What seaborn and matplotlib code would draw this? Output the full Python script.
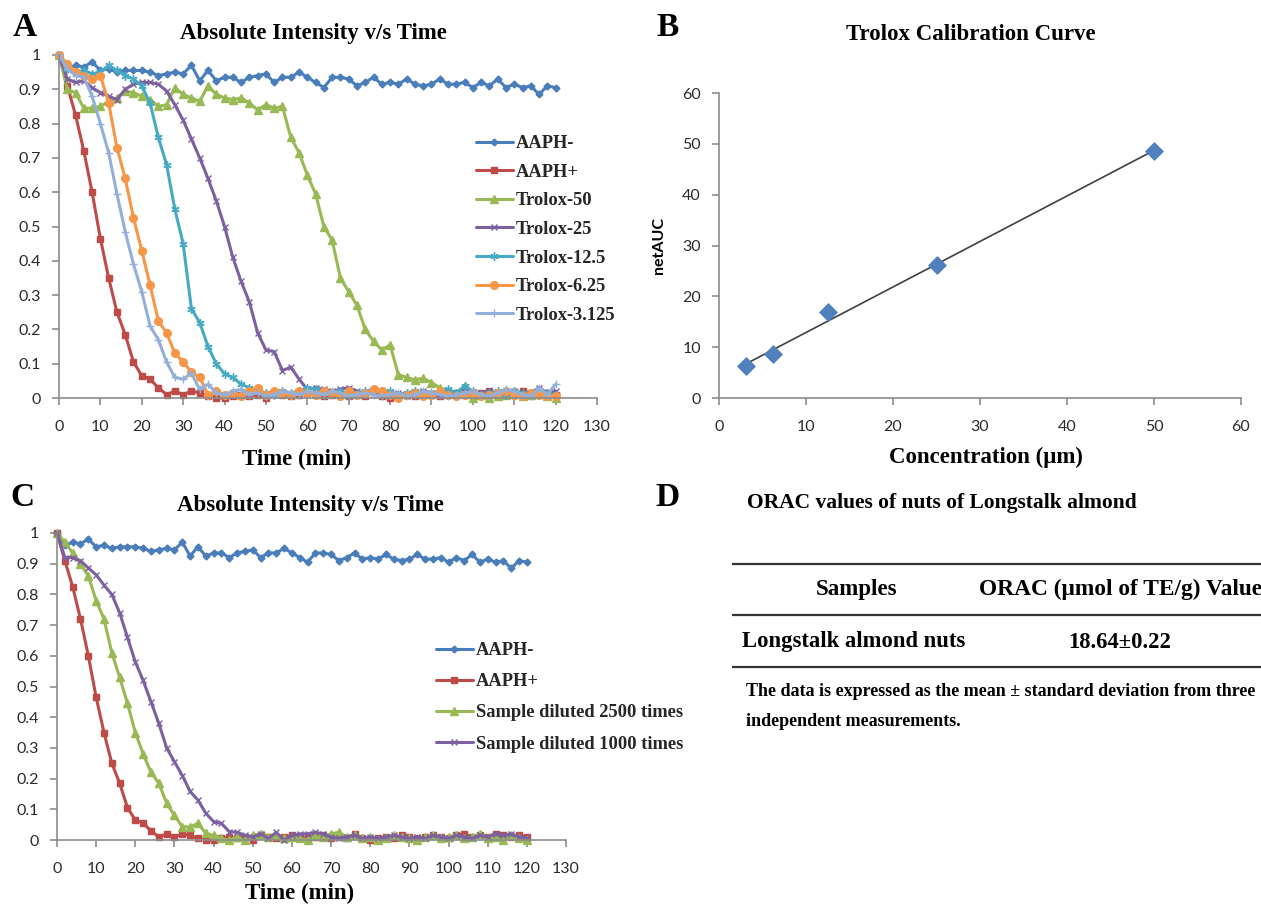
import matplotlib
matplotlib.use("Agg")
import matplotlib.pyplot as plt
import seaborn as sns
import numpy as np

# ---- data ----
time_min = list(range(0, 121, 2))

aaph_minus = [1.00, 0.96, 0.97, 0.965, 0.98, 0.955, 0.96, 0.95, 0.955, 0.955,
              0.955, 0.95, 0.94, 0.945, 0.95, 0.945, 0.97, 0.925, 0.955, 0.925,
              0.935, 0.935, 0.92, 0.935, 0.94, 0.945, 0.92, 0.935, 0.935, 0.95,
              0.935, 0.92, 0.905, 0.935, 0.935, 0.93, 0.91, 0.92, 0.935, 0.915,
              0.92, 0.915, 0.93, 0.915, 0.91, 0.915, 0.93, 0.915, 0.915, 0.92,
              0.905, 0.92, 0.91, 0.93, 0.905, 0.915, 0.905, 0.91, 0.885, 0.91,
              0.905]
aaph_plus = [1.00, 0.91, 0.825, 0.72, 0.60, 0.465, 0.35, 0.25, 0.185, 0.105,
             0.065, 0.055, 0.03, 0.01, 0.02, 0.01, 0.02, 0.015, 0.005, 0.0,
             0.0, 0.005, 0.01, 0.005, 0.01, 0.0, 0.015, 0.01, 0.005, 0.01,
             0.015, 0.01, 0.005, 0.01, 0.015, 0.005, 0.01, 0.005, 0.02, 0.005,
             0.0, 0.005, 0.01, 0.005, 0.015, 0.01, 0.005, 0.01, 0.015, 0.01,
             0.005, 0.015, 0.02, 0.01, 0.015, 0.01, 0.02, 0.015, 0.01, 0.015,
             0.01]
trolox_50 = [1.00, 0.90, 0.89, 0.845, 0.845, 0.85, 0.865, 0.875, 0.895, 0.89,
             0.88, 0.87, 0.85, 0.855, 0.905, 0.885, 0.875, 0.865, 0.91, 0.885,
             0.875, 0.87, 0.875, 0.86, 0.84, 0.855, 0.845, 0.85, 0.76, 0.715,
             0.65, 0.595, 0.50, 0.46, 0.35, 0.31, 0.27, 0.20, 0.165, 0.14,
             0.155, 0.068, 0.06, 0.053, 0.058, 0.045, 0.03, 0.02, 0.015, 0.035,
             0.0, 0.01, 0.0, 0.005, 0.01, 0.02, 0.005, 0.01, 0.02, 0.005,
             0.0]
trolox_25 = [1.00, 0.93, 0.92, 0.925, 0.905, 0.89, 0.88, 0.87, 0.90, 0.915,
             0.92, 0.92, 0.915, 0.895, 0.855, 0.81, 0.755, 0.70, 0.64, 0.575,
             0.50, 0.41, 0.34, 0.28, 0.19, 0.14, 0.135, 0.08, 0.09, 0.055,
             0.025, 0.03, 0.025, 0.02, 0.025, 0.03, 0.02, 0.01, 0.015, 0.02,
             0.01, 0.015, 0.005, 0.01, 0.02, 0.015, 0.01, 0.02, 0.015, 0.03,
             0.01, 0.015, 0.02, 0.01, 0.015, 0.02, 0.01, 0.015, 0.03, 0.015,
             0.02]
trolox_12_5 = [1.00, 0.96, 0.95, 0.955, 0.945, 0.95, 0.97, 0.955, 0.94, 0.93,
               0.91, 0.86, 0.76, 0.68, 0.55, 0.45, 0.26, 0.22, 0.15, 0.10,
               0.07, 0.06, 0.04, 0.03, 0.02, 0.015, 0.01, 0.02, 0.015, 0.02,
               0.03, 0.025, 0.02, 0.015, 0.02, 0.01, 0.015, 0.02, 0.025, 0.015,
               0.02, 0.01, 0.015, 0.02, 0.01, 0.015, 0.02, 0.025, 0.015, 0.035,
               0.02, 0.01, 0.015, 0.02, 0.01, 0.02, 0.015, 0.01, 0.02, 0.015,
               0.01]
trolox_6_25 = [1.00, 0.975, 0.95, 0.94, 0.93, 0.94, 0.86, 0.73, 0.64, 0.525,
               0.43, 0.33, 0.225, 0.19, 0.13, 0.105, 0.075, 0.06, 0.01, 0.02,
               0.01, 0.015, 0.005, 0.02, 0.03, 0.01, 0.02, 0.015, 0.01, 0.02,
               0.015, 0.01, 0.02, 0.015, 0.005, 0.02, 0.01, 0.015, 0.025, 0.02,
               0.01, 0.0, 0.01, 0.015, 0.005, 0.01, 0.02, 0.01, 0.005, 0.01,
               0.015, 0.005, 0.01, 0.015, 0.02, 0.01, 0.005, 0.015, 0.01, 0.005,
               0.005]
trolox_3_125 = [1.00, 0.96, 0.94, 0.935, 0.88, 0.80, 0.715, 0.595, 0.485, 0.39,
                0.31, 0.21, 0.17, 0.105, 0.06, 0.055, 0.072, 0.025, 0.04, 0.015,
                0.01, 0.02, 0.025, 0.01, 0.015, 0.005, 0.01, 0.02, 0.015, 0.01,
                0.02, 0.015, 0.01, 0.02, 0.015, 0.005, 0.01, 0.015, 0.01, 0.005,
                0.01, 0.015, 0.005, 0.01, 0.02, 0.015, 0.01, 0.005, 0.01, 0.015,
                0.02, 0.01, 0.005, 0.015, 0.025, 0.02, 0.01, 0.005, 0.03, 0.01,
                0.04]
sample_2500 = [1.00, 0.97, 0.935, 0.90, 0.86, 0.78, 0.72, 0.61, 0.53, 0.445,
               0.35, 0.28, 0.22, 0.185, 0.12, 0.08, 0.043, 0.043, 0.054, 0.022,
               0.015, 0.005, 0.0, 0.01, 0.0, 0.015, 0.02, 0.01, 0.015, 0.005,
               0.01, 0.005, 0.0, 0.015, 0.01, 0.02, 0.025, 0.01, 0.015, 0.005,
               0.01, 0.0, 0.005, 0.015, 0.01, 0.005, 0.0, 0.01, 0.015, 0.005,
               0.01, 0.015, 0.005, 0.01, 0.02, 0.005, 0.01, 0.0, 0.015, 0.005,
               0.0]
sample_1000 = [1.00, 0.92, 0.92, 0.91, 0.886, 0.864, 0.83, 0.80, 0.74, 0.66,
               0.58, 0.52, 0.45, 0.38, 0.30, 0.255, 0.21, 0.158, 0.13, 0.087,
               0.06, 0.054, 0.027, 0.025, 0.015, 0.01, 0.02, 0.005, 0.025, 0.0,
               0.015, 0.02, 0.02, 0.025, 0.02, 0.01, 0.005, 0.01, 0.015, 0.005,
               0.01, 0.005, 0.01, 0.015, 0.01, 0.005, 0.01, 0.005, 0.015, 0.01,
               0.005, 0.015, 0.01, 0.005, 0.015, 0.01, 0.02, 0.015, 0.02, 0.01,
               0.005]

conc_um = [3.125, 6.25, 12.5, 25, 50]
net_auc = [6.2, 8.7, 16.9, 26.1, 48.5]

table_cols = ["Samples", "ORAC (μmol of TE/g) Value"]
table_samples = ["Longstalk almond nuts"]
table_values = ["18.64±0.22"]

# ---- style ----
blue, red, green, purple = "#4A7EBB", "#BE4B48", "#98B954", "#7D60A0"
teal, orange, lightblue = "#46AAC5", "#F79646", "#94B0DA"
serif = "Liberation Serif"
sans = "Lato"

sns.set_theme(style="white")
plt.rcParams["font.family"] = [serif, "DejaVu Serif"]

W, H = 1261, 910
fig = plt.figure(figsize=(W / 100, H / 100), dpi=100)


def box(l, t, r, b):
    return [l / W, 1 - b / H, (r - l) / W, (b - t) / H]


# overlay axes in pixel coordinates for free text / table
axT = fig.add_axes([0, 0, 1, 1])
axT.set_axis_off()
axT.set_xlim(0, W)
axT.set_ylim(H, 0)

axA = fig.add_axes(box(59, 55, 597, 398))
axB = fig.add_axes(box(719, 93, 1241, 398))
axC = fig.add_axes(box(57, 533, 566, 840))


def style_axes(ax, xmax, xstep, ymax, ystep, yfmt):
    ax.set_xlim(0, xmax)
    ax.set_ylim(0, ymax)
    ax.set_xticks(np.arange(0, xmax + 0.1, xstep))
    yt = np.round(np.arange(0, ymax + 1e-9, ystep), 2)
    ax.set_yticks(yt)
    ax.set_yticklabels([yfmt(v) for v in yt])
    sns.despine(ax=ax)
    for s in ["left", "bottom"]:
        ax.spines[s].set_color("#8C8C8C")
        ax.spines[s].set_linewidth(1.2)
    ax.tick_params(left=True, bottom=True, direction="out", length=5,
                   width=1.2, color="#8C8C8C", labelsize=11.5,
                   labelcolor="#2b2b2b")
    ax.tick_params(axis="x", pad=11)
    ax.tick_params(axis="y", pad=8)
    for lab in ax.get_xticklabels() + ax.get_yticklabels():
        lab.set_fontfamily(sans)
    ax.set_xlabel("")
    ax.set_ylabel("")


def fmt_frac(v):
    if v == 0:
        return "0"
    if v == 1:
        return "1"
    return f"{v:.1f}"


def draw(ax, y, name, color, marker, ms):
    sns.lineplot(x=time_min, y=y, ax=ax, color=color, marker=marker,
                 markersize=ms, markeredgecolor=color, markerfacecolor=color,
                 markeredgewidth=1.0, linewidth=2.2, label=name, clip_on=False)


legend_font = {"family": serif, "weight": "bold", "size": 13.3}

# ---- panel A ----
draw(axA, aaph_minus, "AAPH-", blue, "D", 3.5)
draw(axA, aaph_plus, "AAPH+", red, "s", 5)
draw(axA, trolox_50, "Trolox-50", green, "^", 5.5)
draw(axA, trolox_25, "Trolox-25", purple, "x", 5)
draw(axA, trolox_12_5, "Trolox-12.5", teal, (6, 2, 0), 6)
draw(axA, trolox_6_25, "Trolox-6.25", orange, "o", 5.5)
draw(axA, trolox_3_125, "Trolox-3.125", lightblue, "+", 6)
style_axes(axA, 130, 10, 1.0, 0.1, fmt_frac)
axA.legend(loc="upper left", bbox_to_anchor=(476 / W, 1 - 135 / H),
           bbox_transform=fig.transFigure, frameon=False, prop=legend_font,
           handlelength=2.0, handletextpad=0.15, labelspacing=0.63,
           borderpad=0, borderaxespad=0)

# ---- panel C ----
draw(axC, aaph_minus, "AAPH-", blue, "D", 3.5)
draw(axC, aaph_plus, "AAPH+", red, "s", 5)
draw(axC, sample_2500, "Sample diluted 2500 times", green, "^", 5.5)
draw(axC, sample_1000, "Sample diluted 1000 times", purple, "x", 5)
style_axes(axC, 130, 10, 1.0, 0.1, fmt_frac)
axC.legend(loc="upper left", bbox_to_anchor=(436 / W, 1 - 642 / H),
           bbox_transform=fig.transFigure, frameon=False, prop=legend_font,
           handlelength=2.0, handletextpad=0.15, labelspacing=0.77,
           borderpad=0, borderaxespad=0)

# ---- panel B ----
sns.regplot(x=conc_um, y=net_auc, ax=axB, ci=None, scatter=False,
            line_kws={"color": "#404040", "linewidth": 1.2})
sns.scatterplot(x=conc_um, y=net_auc, ax=axB, marker="D", s=80,
                color="#4F81BD", edgecolor="#4F81BD", zorder=3)
style_axes(axB, 60, 10, 60, 10, lambda v: f"{v:.0f}")

# ---- text ----
def t(x, y, s, size, ha="center", family=serif, **kw):
    axT.text(x, y, s, fontsize=size, ha=ha, va="center", family=family,
             fontweight="bold", color="black", **kw)


for letter, (x, y) in zip("ABCD", [(25, 27), (668, 28), (22, 497), (667, 497)]):
    t(x, y, letter, 24)

t(313, 33, "Absolute Intensity v/s Time", 16.5)
t(310, 505, "Absolute Intensity v/s Time", 16.5)
t(971, 35, "Trolox Calibration Curve", 16.5)
t(297, 459, "Time (min)", 16.5)
t(300, 893, "Time (min)", 16.5)
t(986, 457, "Concentration (μm)", 16.5)
t(659, 245, "netAUC", 11.5, family=sans, rotation=90)
t(840, 148, "y = 0.894x + 4.097", 13.5)
t(840, 168, "R² = 0.996", 13.5)

# ---- panel D table ----
t(747, 503, "ORAC values of nuts of Longstalk almond", 15.5, ha="left")
axT.hlines([564, 615, 667], 732, W, color="#333333", linewidth=1.6)
t(857, 589, table_cols[0], 16.5)
t(979, 589, table_cols[1], 16.8, ha="left")
for i, (name, val) in enumerate(zip(table_samples, table_values)):
    t(742, 642 + 51 * i, name, 16.3, ha="left")
    t(1120, 642 + 51 * i, val, 16.3)
t(746, 692, "The data is expressed as the mean ± standard deviation from three", 13, ha="left")
t(746, 721, "independent measurements.", 13, ha="left")

fig.savefig("out.png", dpi=100)
